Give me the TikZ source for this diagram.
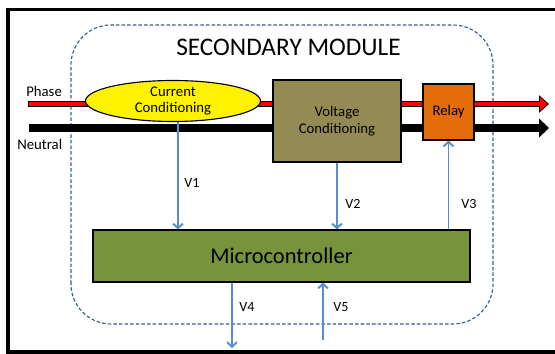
\documentclass[tikz,border=0pt]{standalone}
\usepackage{fontspec}
\setmainfont{Carlito}
\usetikzlibrary{shapes.geometric, arrows.meta, positioning, calc}
\definecolor{cVolt}{RGB}{148,138,84}
\definecolor{cRelay}{RGB}{228,108,10}
\definecolor{cMicro}{RGB}{119,147,60}
\definecolor{cSig}{RGB}{85,142,213}
\definecolor{cDash}{RGB}{56,93,138}
\tikzset{
	blk/.style   ={rectangle, draw=black, line width=0.8pt, align=center, inner sep=1pt},
	txt/.style   ={font=\fontsize{10.5}{12}\selectfont},
	sig/.style   ={-{Straight Barb[length=3.2pt, width=7pt]}, line width=1.4pt, draw=cSig},
	lbl/.style   ={anchor=west, inner sep=0pt, font=\fontsize{10}{12}\selectfont},
}

\begin{document}
\begin{tikzpicture}
	\useasboundingbox (0,0) rectangle (13.875,8.825);
	\draw[line width=2.6pt] (0.2,0.02) rectangle (14.4,8.5875);
	% module frame
	\draw[cDash, line width=0.8pt, dash pattern=on 2.5pt off 1.5pt, rounded corners=1cm] (1.775,0.725) rectangle (12.325,8.2);
	\node[font=\fontsize{18}{21}\selectfont] (title) at (7.2125,7.65) {SECONDARY MODULE};
	% phase and neutral lines
	\coordinate (phA) at (0.7,6.225); \coordinate (phB) at (13.725,6.225);
	\coordinate (nA) at (0.725,5.625); \coordinate (nB) at (13.725,5.625);
	\draw[line width=4.6pt, -{Triangle[length=7pt, width=12pt]}] (phA) -- (phB);
	\draw[line width=3pt, red, -{Triangle[length=5.4pt, width=9.4pt]}, shorten >=1pt] ([xshift=0.8pt]phA) -- (phB);
	\draw[line width=5.7pt, -{Triangle[length=7pt, width=13pt]}] (nA) -- (nB);
	\node[txt, anchor=west, inner sep=0pt] (lph) at (0.65,6.55) {Phase};
	\node[txt, anchor=west, inner sep=0pt] (lne) at (0.425,5.225) {Neutral};
	% blocks
	\node[ellipse, draw=black, line width=0.8pt, fill=yellow, minimum width=4.375cm, minimum height=0.85cm, inner sep=0pt, align=center, txt] (cc) at (4.325,6.3) {Current\\Conditioning};
	\node[blk, txt, fill=cVolt, minimum width=3.2cm, minimum height=2.05cm] (vc) at (8.425,5.8) {Voltage\\Conditioning};
	\node[blk, txt, fill=cRelay, minimum width=1.275cm, minimum height=1.4cm] (rl) at (11.2125,6.025) {Relay};
	\node[blk, fill=cMicro, minimum width=9.425cm, minimum height=1.3cm, font=\fontsize{16}{19}\selectfont] (mc) at (7.0375,2.425) {Microcontroller};
	% signals
	\coordinate (v1top) at ([xshift=0.125cm]cc.south);
	\coordinate (v4end) at (5.8,0.125);
	\coordinate (v5start) at (8.075,0.325);
	\draw[sig] (v1top) -- (v1top |- mc.north);
	\draw[sig] (vc.south) -- (vc.south |- mc.north);
	\draw[sig] (mc.north -| rl.south) -- (rl.south);
	\draw[sig] (mc.south -| v4end) -- (v4end);
	\draw[sig] (v5start) -- (v5start |- mc.south);
	\node[lbl] (lv1) at (4.6,4.25) {V1};
	\node[lbl] (lv2) at (8.625,3.725) {V2};
	\node[lbl] (lv3) at (11.525,3.725) {V3};
	\node[lbl] (lv4) at (5.975,1.15) {V4};
	\node[lbl] (lv5) at (8.325,1.15) {V5};
\end{tikzpicture}
\end{document}
